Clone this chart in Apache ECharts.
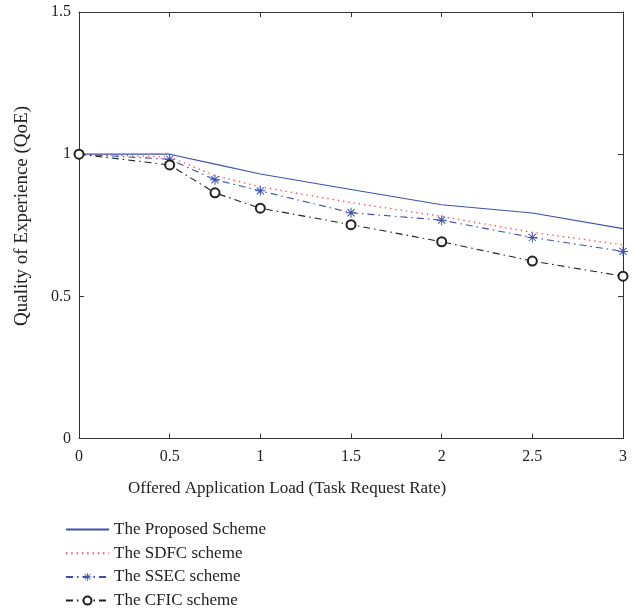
<!DOCTYPE html>
<html>
<head>
<meta charset="utf-8">
<script src="https://cdn.jsdelivr.net/npm/echarts@6/dist/echarts.min.js"></script>
<style>html,body{margin:0;padding:0;background:#fff}#c{width:638px;height:612px}</style>
</head>
<body>
<div id="c"></div>
<script>
const loads = [0, 0.5, 0.75, 1, 1.5, 2, 2.5, 3];
const proposed = [1, 1, 0.965, 0.93, 0.876, 0.822, 0.793, 0.738];
const sdfc = [1, 0.99, 0.925, 0.885, 0.83, 0.781, 0.725, 0.681];
const ssec = [1, 0.982, 0.91, 0.871, 0.794, 0.768, 0.707, 0.658];
const cfic = [1, 0.962, 0.864, 0.81, 0.752, 0.692, 0.624, 0.571];
const seriesNames = ['The Proposed Scheme', 'The SDFC scheme', 'The SSEC scheme', 'The CFIC scheme'];
const xTitle = 'Offered Application Load (Task Request Rate)';
const yTitle = 'Quality of Experience (QoE)';

const FONT = 'Liberation Serif';
const BLUE = '#3d52b0';
const RED = '#ff3b3b';
const BLACK = '#222';
const asterisk = 'path://M-10,-1L10,-1L10,1L-10,1Z M-1,-10L1,-10L1,10L-1,10Z M-6.36,-7.78L7.78,6.36L6.36,7.78L-7.78,-6.36Z M6.36,-7.78L7.78,-6.36L-6.36,7.78L-7.78,6.36Z';

function pairs(vals){ return loads.map((x,i)=>[x, vals[i]]); }

const axisCommon = {
  min: 0,
  axisLine: {show: true, onZero: false, lineStyle: {color: '#333', width: 1}},
  axisTick: {show: true, inside: true, length: 5, lineStyle: {color: '#333'}},
  splitLine: {show: false}
};

const chart = echarts.init(document.getElementById('c'));
chart.setOption({
  animation: false,
  textStyle: {fontFamily: FONT},
  grid: {left: 79, right: 15, top: 12, bottom: 173.5},
  xAxis: [
    Object.assign({type: 'value', max: 3, interval: 0.5, position: 'bottom',
      axisLabel: {color: '#222', fontSize: 16, fontFamily: FONT, margin: 10}}, axisCommon),
    Object.assign({type: 'value', max: 3, interval: 0.5, position: 'top',
      axisLabel: {show: false}}, axisCommon)
  ],
  yAxis: [
    Object.assign({type: 'value', max: 1.5, interval: 0.5, position: 'left',
      axisLabel: {color: '#222', fontSize: 16, fontFamily: FONT, margin: 8}}, axisCommon),
    Object.assign({type: 'value', max: 1.5, interval: 0.5, position: 'right',
      axisLabel: {show: false}}, axisCommon)
  ],
  legend: {
    orient: 'vertical', left: 65, top: 521, padding: 0,
    itemWidth: 43, itemHeight: 10, itemGap: 6.7,
    textStyle: {color: '#222', fontSize: 17, fontFamily: FONT, lineHeight: 16},
    data: [
      {name: seriesNames[0], itemStyle: {opacity: 0}},
      {name: seriesNames[1], itemStyle: {opacity: 0}},
      {name: seriesNames[2]},
      {name: seriesNames[3]}
    ]
  },
  graphic: [
    {type: 'text', left: 128, top: 480,
      style: {text: xTitle, fill: '#222', font: '17px "Liberation Serif"'}},
    {type: 'text', x: 22, y: 216, rotation: Math.PI/2,
      style: {text: yTitle, fill: '#222', font: '19px "Liberation Serif"', align: 'center', verticalAlign: 'middle'}}
  ],
  series: [
    {name: seriesNames[0], type: 'line', data: pairs(proposed), symbol: 'none',
      lineStyle: {color: BLUE, width: 1.1, type: 'solid'}, itemStyle: {color: BLUE}},
    {name: seriesNames[1], type: 'line', data: pairs(sdfc), symbol: 'none',
      lineStyle: {color: RED, width: 1.3, type: [1.3, 4]}, itemStyle: {color: RED}},
    {name: seriesNames[2], type: 'line', data: pairs(ssec), symbol: asterisk, symbolSize: 10,
      lineStyle: {color: BLUE, width: 1.1, type: [7, 4, 1.5, 4]}, itemStyle: {color: BLUE}},
    {name: seriesNames[3], type: 'line', data: pairs(cfic), symbol: 'emptyCircle', symbolSize: 9,
      lineStyle: {color: BLACK, width: 1.1, type: [7, 4, 1.5, 4]}, itemStyle: {color: BLACK, borderColor: BLACK, borderWidth: 1}}
  ]
});
</script>
</body>
</html>
